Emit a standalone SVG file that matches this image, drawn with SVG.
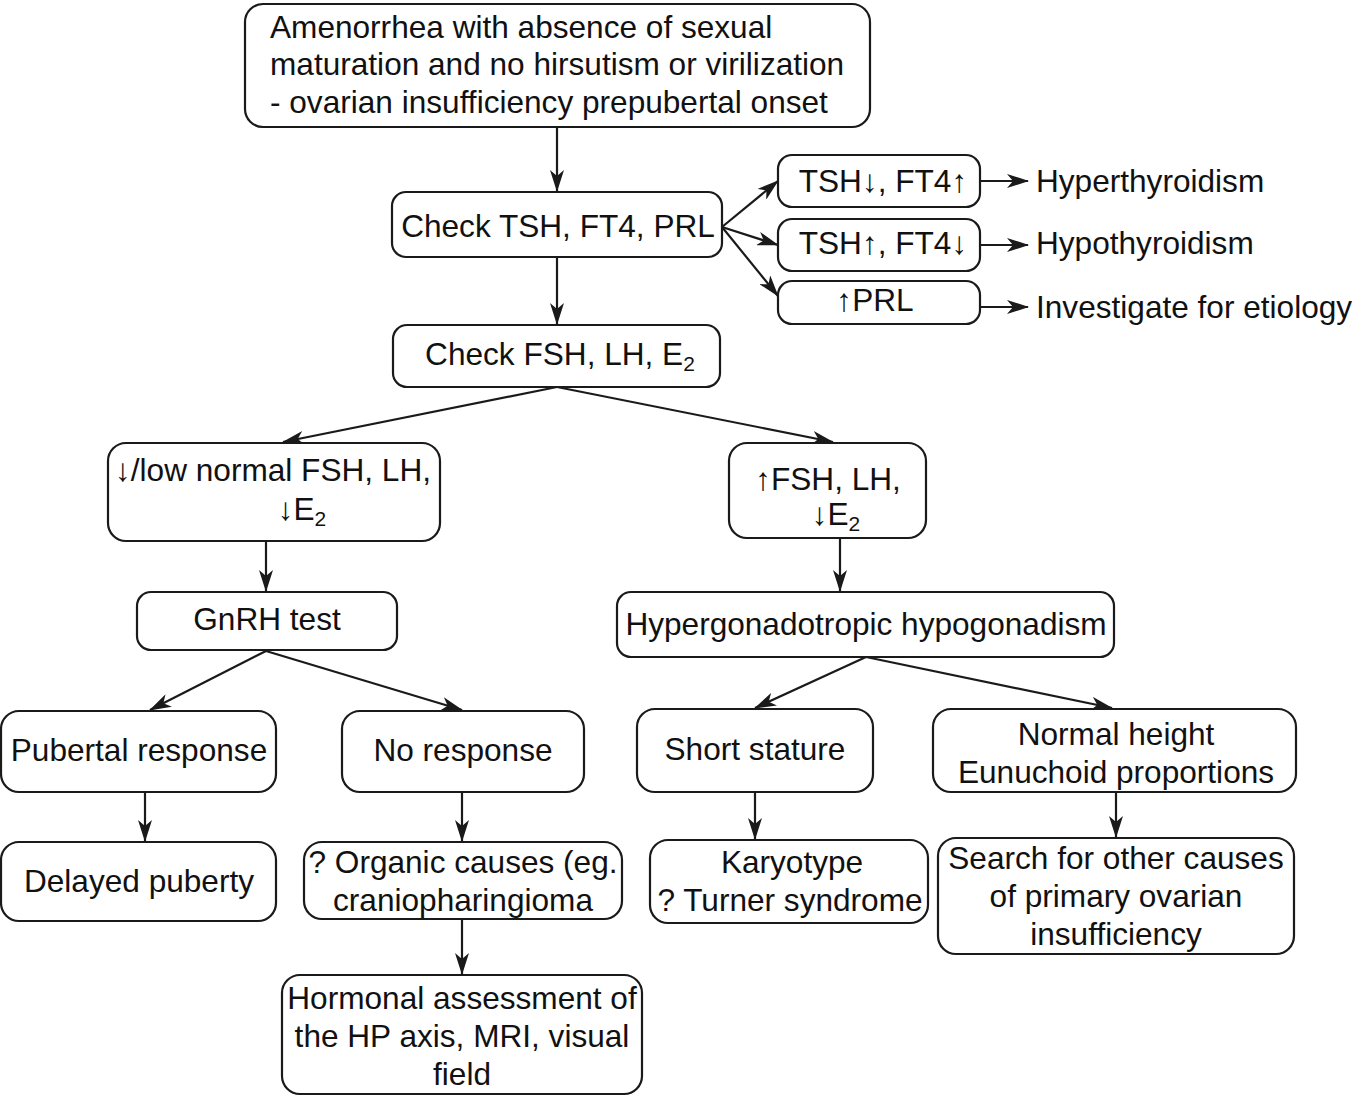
<svg xmlns="http://www.w3.org/2000/svg" width="1354" height="1096" viewBox="0 0 1354 1096">
<defs>
<marker id="ah" viewBox="0 0 22 14" refX="21" refY="7" markerWidth="22" markerHeight="14" markerUnits="userSpaceOnUse" orient="auto">
<path d="M0,0 L22,7 L0,14 L6,7 z" fill="#1a1a1a"/>
</marker>
<style>
.box{fill:#fff;stroke:#1a1a1a;stroke-width:2.2}
.t{font-family:"Liberation Sans",Arial,sans-serif;font-size:31.6px;fill:#111}
.c{text-anchor:middle}
.sub{font-size:21px}
.e{stroke:#1a1a1a;stroke-width:2.2;fill:none;marker-end:url(#ah)}
</style>
</defs>
<rect width="1354" height="1096" fill="#fff"/>
<g id="connectors">
<line class="e" x1="557" y1="127" x2="557" y2="191"/>
<line class="e" x1="557" y1="257" x2="557" y2="324"/>
<line class="e" x1="722" y1="227" x2="778" y2="181"/>
<line class="e" x1="722" y1="227" x2="778" y2="245"/>
<line class="e" x1="722" y1="227" x2="778" y2="296"/>
<line class="e" x1="980" y1="181" x2="1028" y2="181"/>
<line class="e" x1="980" y1="245" x2="1028" y2="245"/>
<line class="e" x1="980" y1="307" x2="1028" y2="307"/>
<line class="e" x1="557" y1="387" x2="283" y2="442"/>
<line class="e" x1="557" y1="387" x2="833" y2="442"/>
<line class="e" x1="266" y1="541" x2="266" y2="591"/>
<line class="e" x1="840" y1="538" x2="840" y2="591"/>
<line class="e" x1="266" y1="651" x2="150" y2="710"/>
<line class="e" x1="266" y1="651" x2="462" y2="710"/>
<line class="e" x1="866" y1="657" x2="755" y2="708"/>
<line class="e" x1="866" y1="657" x2="1112" y2="708"/>
<line class="e" x1="145" y1="792" x2="145" y2="841"/>
<line class="e" x1="462" y1="792" x2="462" y2="841"/>
<line class="e" x1="462" y1="919" x2="462" y2="974"/>
<line class="e" x1="755" y1="792" x2="755" y2="839"/>
<line class="e" x1="1116" y1="792" x2="1116" y2="837"/>
</g>
<g id="n-start">
<rect class="box" x="245" y="4" width="625" height="123" rx="18"/>
<text class="t" x="270" y="38">Amenorrhea with absence of sexual</text>
<text class="t" x="270" y="75">maturation and no hirsutism or virilization</text>
<text class="t" x="270" y="113">- ovarian insufficiency prepubertal onset</text>
</g>
<g id="n-check-tsh">
<rect class="box" x="392" y="192" width="330" height="65" rx="14"/>
<text class="t c" x="558" y="237">Check TSH, FT4, PRL</text>
</g>
<g id="n-hyper">
<rect class="box" x="778" y="155" width="202" height="52" rx="14"/>
<text class="t c" x="883" y="192">TSH↓, FT4↑</text>
</g>
<g id="n-hypo">
<rect class="box" x="778" y="219" width="202" height="52" rx="14"/>
<text class="t c" x="883" y="254">TSH↑, FT4↓</text>
</g>
<g id="n-prl">
<rect class="box" x="778" y="281" width="202" height="43" rx="14"/>
<text class="t c" x="875" y="311">↑PRL</text>
</g>
<g id="l-hyper"><text class="t" x="1036" y="192">Hyperthyroidism</text></g>
<g id="l-hypo"><text class="t" x="1036" y="254">Hypothyroidism</text></g>
<g id="l-etiology"><text class="t" x="1036" y="318">Investigate for etiology</text></g>
<g id="n-check-fsh">
<rect class="box" x="393" y="325" width="327" height="62" rx="14"/>
<text class="t c" x="560" y="365">Check FSH, LH, E<tspan class="sub" dy="6">2</tspan></text>
</g>
<g id="n-low">
<rect class="box" x="108" y="443" width="332" height="98" rx="18"/>
<text class="t c" x="273" y="481">↓/low normal FSH, LH,</text>
<text class="t c" x="302" y="520">↓E<tspan class="sub" dy="6">2</tspan></text>
</g>
<g id="n-high">
<rect class="box" x="729" y="443" width="197" height="95" rx="18"/>
<text class="t c" x="828" y="490">↑FSH, LH,</text>
<text class="t c" x="836" y="525">↓E<tspan class="sub" dy="6">2</tspan></text>
</g>
<g id="n-gnrh">
<rect class="box" x="137" y="592" width="260" height="58" rx="14"/>
<text class="t c" x="267" y="630">GnRH test</text>
</g>
<g id="n-hypergon">
<rect class="box" x="617" y="592" width="497" height="65" rx="14"/>
<text class="t c" x="866" y="635">Hypergonadotropic hypogonadism</text>
</g>
<g id="n-pubertal">
<rect class="box" x="1" y="711" width="275" height="81" rx="18"/>
<text class="t c" x="139" y="761">Pubertal response</text>
</g>
<g id="n-noresp">
<rect class="box" x="342" y="711" width="242" height="81" rx="18"/>
<text class="t c" x="463" y="761">No response</text>
</g>
<g id="n-short">
<rect class="box" x="637" y="709" width="236" height="83" rx="18"/>
<text class="t c" x="755" y="760">Short stature</text>
</g>
<g id="n-normal">
<rect class="box" x="933" y="709" width="363" height="83" rx="18"/>
<text class="t c" x="1116" y="745">Normal height</text>
<text class="t c" x="1116" y="783">Eunuchoid proportions</text>
</g>
<g id="n-delayed">
<rect class="box" x="1" y="842" width="275" height="79" rx="18"/>
<text class="t c" x="139" y="892">Delayed puberty</text>
</g>
<g id="n-organic">
<rect class="box" x="304" y="842" width="318" height="77" rx="18"/>
<text class="t c" x="463" y="873">? Organic causes (eg.</text>
<text class="t c" x="463" y="911">craniopharingioma</text>
</g>
<g id="n-hormonal">
<rect class="box" x="282" y="975" width="360" height="119" rx="18"/>
<text class="t c" x="462" y="1009">Hormonal assessment of</text>
<text class="t c" x="462" y="1047">the HP axis, MRI, visual</text>
<text class="t c" x="462" y="1085">field</text>
</g>
<g id="n-karyotype">
<rect class="box" x="650" y="840" width="278" height="83" rx="18"/>
<text class="t c" x="792" y="873">Karyotype</text>
<text class="t c" x="790" y="911">? Turner syndrome</text>
</g>
<g id="n-search">
<rect class="box" x="938" y="838" width="356" height="116" rx="18"/>
<text class="t c" x="1116" y="869">Search for other causes</text>
<text class="t c" x="1116" y="907">of primary ovarian</text>
<text class="t c" x="1116" y="945">insufficiency</text>
</g>
</svg>
